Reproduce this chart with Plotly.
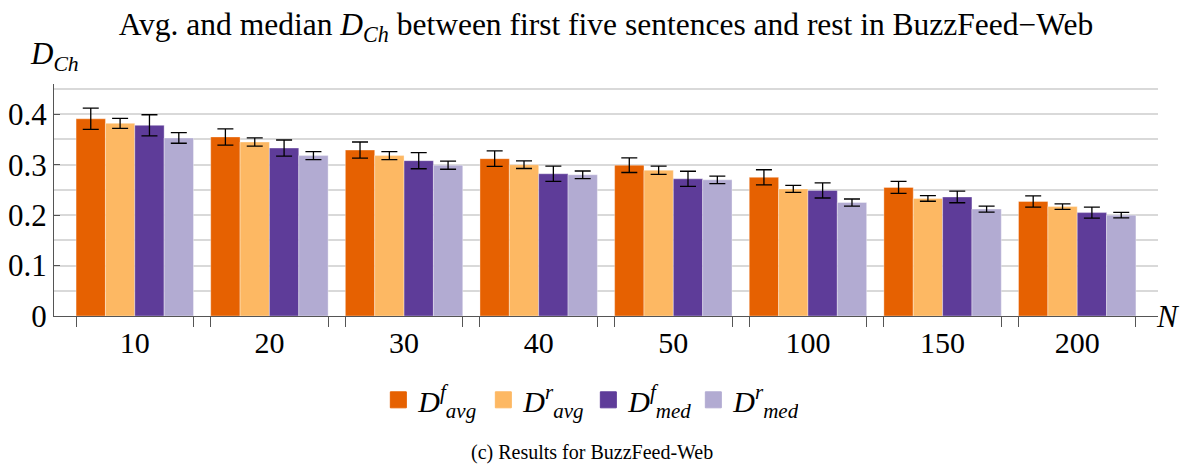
import numpy as np
import plotly.graph_objects as go

# ---- data ----
categories = ["10", "20", "30", "40", "50", "100", "150", "200"]

d_avg_f = [0.391, 0.355, 0.329, 0.312, 0.299, 0.275, 0.255, 0.227]
d_avg_f_err = [0.021, 0.016, 0.016, 0.0155, 0.0145, 0.015, 0.012, 0.011]

d_avg_r = [0.382, 0.345, 0.318, 0.300, 0.289, 0.252, 0.233, 0.217]
d_avg_r_err = [0.010, 0.008, 0.008, 0.0075, 0.008, 0.007, 0.0055, 0.0055]

d_med_f = [0.378, 0.333, 0.308, 0.282, 0.272, 0.249, 0.236, 0.205]
d_med_f_err = [0.021, 0.016, 0.016, 0.015, 0.015, 0.015, 0.0115, 0.011]

d_med_r = [0.353, 0.318, 0.299, 0.280, 0.270, 0.225, 0.212, 0.200]
d_med_r_err = [0.0105, 0.0078, 0.008, 0.0075, 0.0075, 0.007, 0.006, 0.0055]

series_names = [
    "<i>D</i><sup><i>f</i></sup><sub><i>avg</i></sub>",
    "<i>D</i><sup><i>r</i></sup><sub><i>avg</i></sub>",
    "<i>D</i><sup><i>f</i></sup><sub><i>med</i></sub>",
    "<i>D</i><sup><i>r</i></sup><sub><i>med</i></sub>",
]
series_values = [d_avg_f, d_avg_r, d_med_f, d_med_r]
series_errors = [d_avg_f_err, d_avg_r_err, d_med_f_err, d_med_r_err]
colors = ["#e66101", "#fdb863", "#5e3c99", "#b2abd2"]

y_tickvals = [0, 0.1, 0.2, 0.3, 0.4]
y_ticktext = ["0", "0.1", "0.2", "0.3", "0.4"]

FONT = "Liberation Serif"
BARGAP = 0.128

x = np.arange(len(categories))

fig = go.Figure()
for name, vals, errs, col in zip(series_names, series_values, series_errors, colors):
    fig.add_trace(go.Bar(
        x=x, y=vals, name=name, showlegend=False,
        marker=dict(color=col, line=dict(color="rgba(255,255,255,0.35)", width=1)),
        error_y=dict(type="data", array=errs, visible=True, color="black",
                     thickness=1.3, width=8),
    ))
# legend entries with larger square swatches
for name, col in zip(series_names, colors):
    fig.add_trace(go.Scatter(
        x=[None], y=[None], mode="markers", name=name,
        marker=dict(symbol="square", size=16, color=col, line=dict(color=col, width=1)),
    ))

half = (1 - BARGAP) / 2
edge_ticks = sorted([i - half for i in x] + [i + half for i in x])

# the page adds an 8px body margin, so the layout is offset by 8px up/left
fig.update_layout(
    width=1189, height=467,
    paper_bgcolor="white", plot_bgcolor="white",
    margin=dict(l=46, r=39, t=76, b=159, autoexpand=False),
    barmode="group", bargap=BARGAP, bargroupgap=0,
    font=dict(family=FONT, size=30, color="black"),
    title=dict(
        text="Avg. and median <i>D</i><sub><i>Ch</i></sub> between first five sentences and rest in BuzzFeed\u2212Web",
        x=0.5, xref="paper", xanchor="center", y=0.966, yanchor="middle",
        font=dict(family=FONT, size=31.5, color="black"),
    ),
    xaxis=dict(
        range=[-0.6, 7.6], tickmode="array", tickvals=x, ticktext=categories,
        ticks="", showgrid=False, zeroline=False,
        showline=True, linecolor="#555555", linewidth=1.2,
        tickfont=dict(family=FONT, size=30),
        minor=dict(tickmode="array", tickvals=edge_ticks, ticks="outside",
                   ticklen=10, tickcolor="#555555", tickwidth=1.2, showgrid=False),
    ),
    yaxis=dict(
        range=[0, 0.46], tickmode="array", tickvals=y_tickvals, ticktext=y_ticktext,
        ticks="inside", ticklen=6, tickcolor="#555555", tickwidth=1.2,
        showgrid=True, gridcolor="#d9d9d9", gridwidth=1.5, zeroline=False,
        showline=True, linecolor="#555555", linewidth=1.2,
        tickfont=dict(family=FONT, size=31),
        minor=dict(dtick=0.05, showgrid=True, gridcolor="#d9d9d9", gridwidth=1.5, ticks=""),
    ),
    legend=dict(
        orientation="h", x=0.484, xanchor="center", yref="container", y=0.161, yanchor="middle",
        font=dict(family=FONT, size=30), itemsizing="trace", entrywidth=60,
        bgcolor="rgba(0,0,0,0)", tracegroupgap=0,
    ),
)

fig.add_annotation(
    text="<i>D</i><sub><i>Ch</i></sub>", xref="paper", yref="paper", x=0, y=1,
    xanchor="center", yanchor="bottom", yshift=6, showarrow=False,
    font=dict(family=FONT, size=31),
)
fig.add_annotation(
    text="<i>N</i>", xref="paper", yref="paper", x=1, y=0,
    xanchor="left", yanchor="middle", xshift=-4, showarrow=False,
    font=dict(family=FONT, size=31),
)
fig.add_annotation(
    text="(c) Results for BuzzFeed-Web", xref="paper", yref="paper", x=0.487, y=-0.59,
    xanchor="center", yanchor="middle", showarrow=False,
    font=dict(family=FONT, size=20),
)

fig.write_html("out.html")
